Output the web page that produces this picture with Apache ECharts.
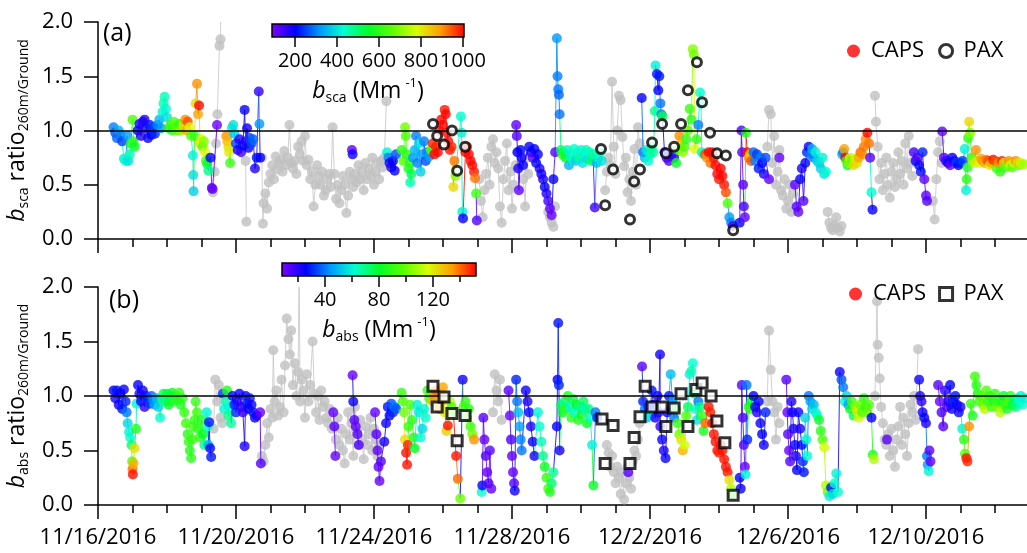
<!DOCTYPE html>
<html>
<head>
<meta charset="UTF-8">
<title>bsca / babs ratio 260m/Ground</title>
<script src="https://cdn.jsdelivr.net/npm/echarts@6/dist/echarts.min.js"></script>
</head>
<body style="margin:0;background:#fff">
<div id="main" style="width:1027px;height:553px;"></div>
<script>
// time = days after 11/16/2016 00:00, ratio, coefficient (Mm-1)
var scaColored = [
  [0.45,1.03,300],[0.5,0.98,260],[0.55,0.93,280],[0.6,1.0,350],[0.65,0.96,300],[0.7,0.9,250],[0.75,0.74,420],[0.8,0.72,430],[0.85,0.95,320],[0.88,0.72,400],[0.92,0.78,450],[0.95,0.88,560],[1.0,1.1,640],[1.03,0.9,600],[1.07,0.85,560],
  [1.15,1.0,200],[1.2,1.06,190],[1.25,0.95,180],[1.3,1.08,170],[1.35,1.1,180],[1.4,1.02,190],[1.45,0.93,200],[1.5,1.05,220],[1.55,0.96,200],[1.6,1.03,250],[1.65,0.97,230],
  [1.72,1.05,300],[1.78,1.1,350],[1.83,1.02,320],[1.87,1.17,420],[1.9,1.25,450],[1.93,1.31,450],[1.97,1.2,430],[2.0,1.12,400],
  [2.05,1.02,580],[2.1,1.05,620],[2.15,1.0,600],[2.2,1.08,650],[2.25,1.03,640],[2.3,1.0,660],[2.35,1.06,600],[2.4,1.0,700],
  [2.48,1.05,820],[2.53,1.1,900],[2.57,1.0,880],[2.6,1.08,950],[2.65,1.03,780],[2.7,0.95,650],
  [2.75,0.77,420],[2.76,0.59,400],[2.77,0.44,380],[2.8,0.95,600],
  [2.83,1.25,820],[2.87,1.43,900],[2.9,1.15,880],[2.93,1.23,1000],[2.96,0.88,820],[2.99,0.92,780],
  [3.03,0.85,650],[3.07,0.9,700],[3.1,0.8,780],[3.13,0.72,620],[3.17,0.69,560],[3.2,0.63,480],
  [3.26,0.75,200],[3.3,0.47,130],[3.32,0.46,110],[3.45,1.05,110],
  [3.72,0.95,900],[3.75,0.9,860],[3.78,0.85,820],[3.8,0.8,800],[3.83,0.7,620],
  [3.88,1.02,420],[3.92,1.05,400],[3.95,0.97,380],
  [4.0,0.88,250],[4.05,0.82,200],[4.1,0.92,180],[4.15,0.8,150],[4.2,0.86,200],[4.25,1.19,200],[4.28,0.9,170],[4.32,1.02,190],[4.36,0.84,200],[4.4,0.93,250],[4.45,0.88,260],[4.5,0.92,280],[4.55,0.65,180],[4.6,0.75,220],
  [4.66,1.36,160],[4.68,1.06,320],[4.7,0.75,200],
  [7.36,0.82,120],[7.38,0.78,190],
  [8.38,0.8,420],[8.42,0.75,300],[8.45,0.7,200],[8.5,0.66,180],[8.55,0.72,200],[8.6,0.63,200],[8.64,0.78,260],
  [8.8,0.82,600],[8.85,0.72,650],[8.9,1.03,680],[8.92,0.95,640],[8.95,0.78,600],[9.0,0.65,580],[9.03,0.7,600],[9.05,0.52,460],[9.08,0.6,520],
  [9.13,0.75,320],[9.18,0.82,350],[9.22,0.95,300],[9.26,0.7,300],[9.3,0.88,400],[9.35,0.62,380],[9.4,0.78,320],[9.45,0.9,300],[9.5,0.72,260],[9.55,0.8,300],[9.6,0.76,330],
  [9.65,0.82,650],[9.7,0.88,980],[9.75,0.78,1000],[9.8,0.85,980],[9.85,0.8,1000],[9.9,1.0,990],[9.95,1.1,1000],[10.0,1.05,1000],[10.05,1.19,990],[10.08,1.15,1000],[10.12,0.98,1000],[10.15,0.9,1000],[10.2,0.82,990],[10.25,0.85,980],
  [10.3,0.48,820],[10.33,0.72,920],[10.36,0.58,700],
  [10.52,1.13,430],[10.54,0.98,420],[10.56,0.25,420],[10.58,0.19,200],
  [10.65,0.8,1000],[10.7,0.85,990],[10.75,0.78,1000],[10.8,0.72,1000],[10.85,0.68,1000],[10.9,0.62,990],[10.93,0.56,920],[10.96,0.42,620],[10.98,0.17,130],
  [12.12,1.05,120],[12.14,0.95,130],[12.16,0.8,200],[12.18,0.65,180],[12.2,0.45,120],[12.25,0.82,200],[12.28,0.75,190],[12.32,0.68,200],
  [12.5,0.85,200],[12.55,0.8,190],[12.6,0.75,120],[12.65,0.83,200],[12.7,0.7,210],[12.75,0.78,200],[12.8,0.65,180],[12.85,0.6,190],
  [12.9,0.55,180],[12.95,0.48,200],[13.0,0.42,180],[13.05,0.35,150],[13.1,0.28,120],[13.15,0.22,110],[13.2,0.55,200],[13.25,0.8,130],
  [13.3,1.85,320],[13.32,1.5,300],[13.34,1.38,300],[13.36,1.33,280],[13.38,1.15,290],
  [13.42,0.82,500],[13.46,0.78,600],[13.5,0.8,560],[13.55,0.75,540],[13.6,0.82,450],[13.65,0.68,350],[13.7,0.78,420],[13.75,0.73,450],[13.8,0.83,430],[13.85,0.72,380],[13.9,0.8,440],[13.95,0.75,470],[14.0,0.82,430],[14.05,0.7,400],[14.1,0.78,420],[14.15,0.82,450],[14.2,0.74,400],[14.25,0.8,430],[14.3,0.72,520],[14.35,0.78,470],[14.4,0.29,150],[14.45,0.7,350],[14.5,0.75,420],[14.55,0.8,450],[14.6,0.72,400],
  [15.76,1.3,200],[15.8,0.8,280],[15.85,0.75,350],[15.9,0.82,420],[15.95,0.72,430],[16.0,0.78,450],[16.05,0.85,500],[16.1,0.8,470],[16.14,1.18,480],[16.16,1.6,420],[16.2,1.52,220],[16.24,1.37,200],[16.27,1.5,220],[16.3,1.25,290],[16.33,1.15,300],[16.36,1.13,520],
  [16.42,0.8,200],[16.48,0.75,150],[16.55,0.72,130],[16.62,0.78,200],[16.7,0.75,160],[16.76,0.7,560],[16.8,0.82,600],[16.85,0.95,900],[16.9,0.88,850],[16.95,0.8,700],[17.0,0.85,640],[17.05,0.92,600],[17.1,1.0,650],[17.15,1.2,620],[17.2,1.1,600],[17.24,1.75,700],[17.27,1.7,680],[17.3,0.83,780],[17.35,0.92,600],[17.4,1.05,300],[17.45,1.35,430],[17.48,1.25,420],[17.5,0.8,430],[17.55,0.78,420],
  [17.6,0.78,950],[17.65,0.75,900],[17.7,0.8,1000],[17.75,0.7,920],[17.8,0.8,1000],[17.85,0.75,990],[17.9,0.68,1000],[17.95,0.6,1000],[18.0,0.55,990],[18.05,0.65,1000],[18.1,0.58,1000],[18.15,0.5,990],[18.2,0.43,950],[18.25,0.33,640],[18.3,0.2,320],[18.35,0.15,300],[18.4,0.12,150],
  [18.6,0.15,200],[18.65,1.0,130],[18.67,0.8,130],[18.7,0.5,120],[18.72,0.3,140],[18.75,0.2,120],[18.78,0.98,580],
  [18.82,0.8,1000],[18.86,0.75,900],[18.9,0.78,820],[18.93,0.72,950],
  [19.0,0.8,280],[19.05,0.72,300],[19.1,0.78,250],[19.15,0.65,220],[19.2,0.75,300],[19.25,0.7,200],[19.3,0.6,180],[19.35,0.75,260],
  [19.45,0.55,120],[19.75,0.75,120],
  [20.2,0.5,120],[20.25,0.3,130],[20.3,0.25,120],[20.35,0.55,200],[20.4,0.65,180],[20.45,0.35,130],[20.5,0.7,200],[20.55,0.8,230],
  [20.6,0.85,200],[20.65,0.78,300],[20.7,0.83,350],[20.75,0.75,300],[20.8,0.8,420],[20.85,0.72,380],[20.9,0.7,400],[20.95,0.65,380],[21.0,0.75,420],[21.05,0.6,400],[21.1,0.62,430],
  [21.57,0.78,350],[21.6,0.8,300],[21.63,0.83,880],[21.66,0.75,1000],[21.7,0.72,600],[21.73,0.68,560],[21.76,0.7,700],[21.8,0.75,800],[21.85,0.72,650],[21.9,0.68,820],[21.95,0.74,760],[22.0,0.7,820],[22.05,0.75,880],[22.1,0.8,930],[22.15,0.78,900],[22.2,0.85,920],[22.25,0.92,900],[22.3,0.98,1000],[22.35,0.88,920],
  [22.38,0.75,130],[22.42,0.43,430],[22.45,0.27,200],
  [23.65,0.8,150],[23.7,0.72,200],[23.75,0.75,120],[23.8,0.68,200],[23.85,0.62,210],[23.9,0.8,230],[23.95,0.55,120],[24.0,0.4,120],[24.03,0.35,130],
  [24.47,0.99,120],[24.52,0.75,130],[24.58,0.72,150],[24.64,0.7,200],[24.7,0.68,120],[24.76,0.75,200],[24.82,0.72,180],[24.88,0.7,250],[24.94,0.68,200],[25.0,0.7,220],[25.06,0.72,250],[25.12,0.83,420],
  [25.16,0.45,420],[25.18,0.55,600],[25.2,0.66,580],[25.22,0.93,600],[25.25,1.08,820],[25.28,0.98,700],[25.32,0.75,600],[25.36,0.72,680],[25.4,0.7,760],[25.45,0.82,900],[25.5,0.72,820],
  [25.55,0.7,780],[25.6,0.74,880],[25.65,0.72,900],[25.7,0.7,860],[25.75,0.73,920],[25.8,0.72,950],[25.85,0.68,800],[25.9,0.7,880],[25.95,0.73,1000],[26.0,0.72,950],[26.05,0.65,640],[26.1,0.7,900],[26.15,0.62,600],[26.2,0.72,980],[26.25,0.7,820],[26.3,0.66,620],[26.35,0.7,700],[26.4,0.72,900],[26.45,0.68,760],[26.5,0.66,650],[26.55,0.7,800],[26.6,0.72,900],[26.65,0.7,820],[26.7,0.68,680],[26.75,0.7,800],[26.85,0.69,720]
];
var scaGray = [
  [3.33,0.43],[3.38,0.62],[3.42,0.88],[3.46,1.15],[3.52,1.78],[3.55,1.84],[3.57,2.3],
  [4.28,0.72],[4.3,0.16],
  [4.75,0.75],[4.78,0.14],[4.8,0.33],[4.85,0.42],[4.9,0.28],[4.95,0.52],[5.0,0.6],[5.05,0.68],[5.1,0.55],[5.15,0.76],[5.2,0.64],[5.25,0.7],[5.3,0.73],[5.35,0.62],[5.4,0.81],[5.45,0.68],[5.5,0.75],[5.55,1.05],[5.6,0.7],[5.65,0.65],[5.7,0.72],[5.75,0.6],[5.8,0.85],[5.85,0.78],[5.9,0.9],[5.95,0.72],[6.0,0.95],[6.05,0.68],[6.1,0.73],[6.15,0.55],[6.2,0.62],[6.25,0.3],[6.3,0.5],[6.35,0.68],[6.4,0.58],[6.45,0.5],[6.5,0.62],[6.55,0.4],[6.6,0.45],[6.65,0.55],[6.7,0.6],[6.75,0.48],[6.8,1.03],[6.85,0.6],[6.9,0.37],[6.95,0.5],[7.0,0.33],[7.05,0.45],[7.1,0.58],[7.15,0.5],[7.2,0.24],[7.25,0.4],[7.3,0.62],[7.35,0.55],[7.4,0.48],[7.45,0.6],[7.5,0.52],[7.55,0.68],[7.6,0.55],[7.65,0.62],[7.7,0.45],[7.75,0.7],[7.8,0.55],[7.85,0.65],[7.9,0.58],[7.95,0.75],[8.0,0.5],[8.05,0.62],[8.1,0.7],[8.15,0.55],[8.2,0.72],[8.25,0.66],[8.3,0.75],[8.36,1.27],
  [11.05,0.55],[11.1,0.35],[11.15,0.2],[11.2,0.45],[11.25,0.6],[11.3,0.75],[11.35,0.5],[11.4,0.85],[11.45,0.92],[11.5,0.7],[11.55,0.8],[11.6,0.65],[11.65,0.3],[11.7,0.15],[11.75,0.55],[11.8,0.72],[11.85,0.88],[11.9,0.45],[11.95,0.62],[12.0,0.28],[12.05,0.5],[12.1,0.68],[12.15,0.8],
  [12.33,0.55],[12.38,0.3],[12.42,0.75],[12.47,0.6],
  [13.05,0.25],[13.1,0.2],[13.15,0.15],[13.2,0.11],[13.25,0.3],
  [14.7,0.45],[14.75,0.62],[14.8,0.75],[14.85,0.68],[14.9,1.45],[14.95,0.85],[15.0,0.6],[15.05,1.0],[15.1,1.32],[15.15,1.28],[15.2,0.94],[15.25,0.67],[15.3,0.75],[15.35,0.43],[15.4,0.55],[15.45,0.35],[15.5,0.62],[15.55,0.83],[15.6,0.5],[15.65,1.03],[15.7,0.88],
  [19.4,0.85],[19.45,1.19],[19.5,1.15],[19.55,0.7],[19.6,0.95],[19.65,0.5],[19.7,0.62],[19.75,0.82],[19.8,0.45],[19.85,0.4],[19.9,0.55],[19.95,0.28],[20.0,0.35],[20.05,0.5],[20.1,0.25],[20.15,0.42],
  [21.15,0.25],[21.2,0.15],[21.25,0.1],[21.3,0.08],[21.35,0.12],[21.4,0.2],[21.45,0.1],[21.5,0.07],[21.55,0.12],
  [22.52,1.32],[22.55,1.08],[22.6,0.85],[22.65,0.55],[22.7,0.7],[22.75,0.45],[22.8,0.6],[22.85,0.75],[22.9,0.5],[22.95,0.38],[23.0,0.62],[23.05,0.7],[23.1,0.48],[23.15,0.55],[23.2,0.8],[23.25,0.6],[23.3,0.72],[23.35,0.5],[23.4,0.88],[23.45,0.65],[23.5,0.95],[23.55,0.7],[23.6,0.58],
  [24.2,0.35],[24.25,0.18],[24.3,0.55],[24.35,0.8],[24.4,0.9],[24.45,0.7]
];
var scaPax = [
  [9.71,1.06],[9.83,0.95],[10.03,0.87],[10.26,1.0],[10.41,0.63],[10.64,0.85],
  [14.58,0.83],[14.7,0.31],[14.93,0.64],[15.42,0.18],[15.54,0.53],[15.71,0.64],[16.06,0.89],[16.35,1.06],[16.46,0.79],[16.7,0.85],[16.9,1.06],[17.1,1.37],[17.36,1.63],[17.51,1.26],[17.74,0.98],[17.94,0.79],[18.2,0.77],[18.41,0.08]
];

var absColored = [
  [0.45,1.05,26],[0.5,0.98,24],[0.55,1.05,28],[0.6,0.92,25],[0.65,1.02,26],[0.7,0.88,28],[0.75,1.06,25],[0.8,0.95,30],[0.83,0.85,40],
  [0.86,0.75,55],[0.9,0.67,60],[0.93,0.62,62],[0.97,0.55,72],[0.99,0.4,95],[1.0,0.33,140],[1.01,0.28,150],[1.03,0.38,130],[1.06,0.52,122],[1.1,0.7,85],[1.12,0.93,60],
  [1.16,1.1,25],[1.2,1.02,22],[1.25,0.95,26],[1.3,1.05,24],[1.35,0.9,20],[1.4,1.0,28],[1.45,0.97,30],[1.5,0.93,32],[1.55,1.0,38],[1.6,0.96,42],[1.65,0.92,45],[1.7,0.98,50],[1.75,0.9,55],[1.8,0.8,62],
  [1.85,0.97,70],[1.9,1.02,75],[1.95,0.95,72],[2.0,1.02,78],[2.05,0.92,80],[2.1,1.0,76],[2.15,1.03,82],[2.2,0.95,85],[2.25,1.0,80],[2.3,0.97,88],[2.35,1.03,90],[2.4,0.92,85],[2.45,0.98,88],
  [2.5,0.85,90],[2.55,0.75,92],[2.6,0.65,88],[2.63,0.58,90],[2.66,0.5,86],[2.7,0.43,88],[2.73,0.6,90],[2.76,0.72,92],[2.8,0.78,88],
  [2.83,0.95,90],[2.87,0.85,92],[2.9,0.7,88],[2.95,0.62,90],[3.0,0.78,85],[3.05,0.65,80],[3.08,0.55,70],
  [3.15,0.85,60],[3.18,0.72,62],[3.2,0.55,50],[3.22,0.76,28],[3.25,0.52,25],[3.28,0.44,28],
  [3.62,1.02,32],[3.66,0.88,60],[3.7,0.95,65],[3.74,1.05,85],[3.78,0.82,70],[3.82,0.9,62],[3.86,0.75,68],
  [3.9,1.0,25],[3.95,0.92,28],[4.0,0.85,30],[4.05,0.95,22],[4.1,1.02,25],[4.15,0.9,20],[4.2,0.85,18],[4.25,0.54,22],[4.28,1.0,25],[4.32,0.93,28],[4.36,0.88,26],[4.4,0.98,30],[4.45,0.92,24],[4.5,0.85,28],[4.55,0.8,26],[4.6,0.82,22],
  [4.7,0.85,12],[4.72,0.38,14],
  [6.82,0.85,12],[6.85,0.72,14],[6.88,0.45,12],
  [7.38,1.19,12],[7.4,0.95,25],[7.43,0.78,14],[7.47,0.72,12],[7.52,0.65,14],[7.56,0.55,15],
  [8.03,0.85,12],[8.07,0.65,14],[8.1,0.5,12],[8.13,0.35,13],[8.16,0.22,12],[8.2,0.4,14],
  [8.3,0.58,22],[8.35,0.75,24],[8.4,0.9,28],[8.45,0.82,26],[8.5,0.93,35],[8.55,0.85,30],[8.6,0.9,40],[8.65,0.88,36],
  [8.8,1.03,90],[8.84,0.95,95],[8.87,0.85,100],[8.9,0.6,122],[8.93,0.48,150],[8.96,0.37,150],[8.98,0.55,148],[9.0,0.72,90],[9.05,0.92,95],[9.1,0.78,88],[9.15,0.62,85],[9.18,0.52,80],
  [9.25,0.92,60],[9.3,0.85,58],[9.35,0.62,62],[9.4,0.7,55],[9.45,0.88,60],[9.5,0.8,62],
  [9.55,1.05,90],[9.6,0.98,95],[9.65,1.02,100],[9.7,0.95,130],[9.75,1.0,135],[9.8,1.05,140],[9.85,0.92,125],[9.9,0.88,135],[9.95,0.95,128],[10.0,1.08,132],[10.05,0.85,120],[10.1,0.68,125],[10.14,0.73,150],
  [10.2,0.95,110],[10.25,0.9,95],[10.3,0.85,100],[10.38,0.45,150],[10.43,0.24,140],[10.5,0.06,100],
  [10.57,1.15,24],[10.6,0.9,95],[10.65,0.95,90],[10.7,0.8,100],[10.75,0.88,88],[10.8,0.72,92],[10.85,0.65,100],[10.9,0.6,135],
  [11.12,0.12,62],[11.14,0.18,25],[11.17,0.8,14],[11.2,0.6,12],[11.24,0.45,14],[11.28,0.3,12],[11.32,0.2,15],[11.36,0.5,13],[11.4,0.15,12],
  [11.9,1.05,14],[11.94,0.82,12],[11.97,0.6,15],[12.0,0.45,13],[12.03,0.3,12],[12.06,0.2,14],[12.08,0.13,24],
  [12.12,1.15,30],[12.15,0.95,40],[12.18,0.85,50],[12.22,0.72,45],[12.25,0.6,42],[12.28,0.5,40],
  [12.4,1.05,24],[12.45,0.95,22],[12.5,0.85,26],[12.55,0.72,22],[12.6,0.58,25],[12.65,0.45,24],
  [12.75,0.85,60],[12.8,0.72,62],[12.85,0.58,65],[12.9,0.45,70],[12.95,0.35,82],[13.0,0.25,90],[13.05,0.15,95],[13.1,0.12,85],[13.15,0.2,72],[13.2,0.3,68],
  [13.3,0.72,25],[13.32,1.15,26],[13.34,1.67,28],[13.36,1.1,30],[13.38,0.5,24],
  [13.42,0.92,75],[13.47,0.85,80],[13.52,0.95,70],[13.57,0.88,90],[13.62,1.0,85],[13.67,0.9,60],[13.72,0.8,88],[13.77,0.97,78],[13.82,0.85,62],[13.87,0.92,80],[13.92,0.78,85],[13.97,0.9,70],[14.02,0.83,82],[14.07,0.95,75],[14.12,0.88,60],[14.17,0.75,80],[14.22,0.88,72],[14.27,0.8,62],[14.32,0.55,60],[14.36,0.18,82],[14.42,0.85,40],[14.47,0.8,30],
  [15.37,0.3,14],
  [15.77,1.27,14],[15.8,0.95,30],[15.85,0.88,40],[15.9,0.8,50],[15.95,0.9,30],[16.0,0.82,60],[16.05,1.05,28],[16.1,0.92,26],[16.15,0.8,24],[16.22,1.0,25],[16.25,0.85,22],[16.29,1.38,24],[16.3,0.72,20],[16.35,0.6,24],[16.4,0.5,22],[16.45,0.43,25],[16.5,0.85,24],[16.55,1.0,28],[16.6,1.2,50],[16.65,0.95,45],[16.7,0.8,40],
  [16.75,0.88,85],[16.8,0.75,90],[16.85,0.65,100],[16.9,0.6,120],[16.95,0.5,130],[17.0,0.55,115],[17.05,0.82,95],[17.1,0.9,75],[17.15,1.2,60],[17.2,1.23,65],[17.24,1.3,62],[17.28,1.02,72],[17.32,0.88,62],[17.36,0.78,58],[17.4,0.95,40],[17.45,0.9,70],[17.5,0.82,90],[17.55,0.68,85],[17.6,0.75,140],
  [17.7,0.9,150],[17.75,0.85,148],[17.8,0.75,150],[17.85,0.65,150],[17.9,0.58,150],[17.95,0.5,150],[18.0,0.48,148],[18.05,0.55,150],[18.1,0.5,150],[18.15,0.42,150],[18.2,0.35,150],[18.25,0.3,150],[18.3,0.23,122],[18.35,0.15,110],[18.38,0.1,90],
  [18.6,0.25,26],[18.63,0.15,25],[18.66,1.1,14],[18.69,0.8,15],[18.72,0.55,14],[18.75,0.35,12],[18.77,0.28,60],[18.8,1.1,40],[18.82,0.6,30],
  [18.86,0.9,85],[18.9,0.88,90],[18.94,0.95,80],
  [19.0,1.0,26],[19.05,0.9,24],[19.1,0.85,22],[19.15,0.95,25],[19.2,0.75,24],[19.25,0.65,26],[19.3,0.55,24],[19.35,0.85,30],
  [19.95,1.15,14],[19.98,0.85,12],[20.0,0.65,14],[20.03,0.5,12],[20.06,0.4,14],
  [20.1,0.95,22],[20.13,0.85,24],[20.16,0.7,22],[20.2,0.55,24],[20.23,0.45,22],[20.26,0.32,26],[20.3,0.85,24],[20.35,0.7,22],[20.4,0.55,26],[20.43,0.4,30],[20.46,0.3,28],
  [20.5,0.8,55],[20.53,0.6,60],[20.56,0.45,62],
  [20.6,1.0,40],[20.65,0.95,45],[20.7,0.88,55],[20.75,0.92,50],[20.8,0.85,60],[20.85,0.82,62],
  [20.9,0.78,82],[20.95,0.68,88],[21.0,0.6,95],[21.05,0.53,115],
  [21.1,0.18,110],[21.15,0.12,100],[21.2,0.08,60],[21.25,0.16,28],[21.3,0.1,55],[21.35,0.2,62],[21.4,0.29,60],[21.45,0.12,62],
  [21.5,1.22,24],[21.55,1.15,35],[21.6,1.08,40],[21.65,0.95,60],[21.7,1.0,55],[21.75,0.92,45],
  [21.8,0.88,80],[21.85,0.95,92],[21.9,0.82,75],[21.95,0.9,105],[22.0,0.86,120],[22.05,0.8,115],[22.1,0.92,100],[22.15,0.85,95],[22.2,0.98,90],[22.25,0.9,88],[22.3,0.85,100],[22.35,0.92,95],
  [22.42,0.8,26],[22.46,0.46,85],[22.49,0.42,110],
  [22.87,0.6,14],
  [23.8,1.15,24],[23.83,1.0,22],[23.87,0.95,20],[23.9,0.85,24],[23.95,0.8,26],[24.0,0.75,22],[24.03,0.45,40],[24.05,0.37,45],[24.08,0.31,60],[24.1,0.5,14],[24.13,0.4,12],
  [24.35,1.1,14],[24.4,0.95,12],[24.45,0.85,15],[24.5,0.72,14],[24.55,1.05,20],[24.6,0.9,14],[24.65,0.95,22],[24.7,1.1,26],[24.75,0.88,24],[24.8,0.95,30],[24.85,1.0,28],[24.9,0.92,26],[24.95,0.85,24],[25.0,0.9,22],
  [25.05,0.7,60],[25.1,0.6,88],[25.13,0.47,95],[25.17,0.43,150],[25.2,0.4,148],[25.25,0.72,135],[25.3,0.93,90],[25.35,0.82,85],
  [25.42,1.18,92],[25.46,1.1,88],[25.5,1.02,85],[25.55,0.95,90],
  [25.6,1.0,95],[25.65,0.92,100],[25.7,0.88,110],[25.75,1.05,95],[25.8,0.95,90],[25.85,1.0,88],[25.9,0.9,92],[25.95,0.95,85],[26.0,1.02,90],[26.05,0.9,100],[26.1,0.95,88],[26.15,0.85,110],[26.2,0.95,85],[26.25,1.0,80],[26.3,0.92,90],[26.35,0.88,85],[26.4,0.95,95],[26.45,1.0,88],[26.5,0.92,80],[26.55,0.95,75],[26.6,0.9,72],[26.65,0.98,65],[26.7,0.95,62],[26.75,1.0,60],[26.8,0.92,62],[26.85,0.98,60]
];
var absGray = [
  [3.35,0.7],[3.4,1.15],[3.45,0.95],[3.5,1.1],[3.55,0.8],[3.6,0.75],
  [4.75,0.45],[4.8,0.4],[4.85,0.55],[4.9,0.75],[4.95,0.62],[5.0,0.88],[5.05,0.8],[5.08,1.42],[5.12,0.95],[5.17,1.05],[5.22,0.82],[5.27,0.9],[5.32,1.15],[5.38,0.85],[5.42,1.28],[5.47,1.71],[5.52,1.52],[5.56,1.38],[5.6,1.6],[5.65,1.1],[5.7,1.3],[5.75,1.0],[5.8,1.22],[5.83,2.2],[5.86,0.95],[5.9,1.15],[5.95,1.05],[6.0,0.8],[6.05,1.2],[6.1,0.95],[6.15,1.1],[6.22,1.5],[6.27,1.02],[6.32,0.85],[6.37,1.0],[6.42,0.78],[6.47,1.05],[6.52,0.9],[6.57,0.95],[6.62,0.8],[6.67,0.75],[6.72,0.88],[6.78,0.7],
  [6.9,0.6],[6.95,0.8],[7.0,0.55],[7.05,0.7],[7.1,0.5],[7.15,0.38],[7.2,0.65],[7.25,0.85],[7.3,0.6],[7.35,0.75],[7.4,0.45],[7.45,0.9],[7.5,0.68],[7.55,0.55],[7.6,0.78],[7.65,0.6],[7.7,0.42],[7.75,0.72],[7.8,0.55],[7.85,0.65],[7.9,0.8],[7.95,0.5],[8.0,0.7],[8.05,0.6],[8.1,0.45],[8.15,0.55],
  [11.45,0.85],[11.5,1.2],[11.55,1.05],[11.6,0.95],[11.65,1.15],[11.7,0.78],
  [14.75,0.55],[14.8,0.48],[14.85,0.35],[14.9,0.45],[14.95,0.3],[15.0,0.2],[15.05,0.35],[15.1,0.25],[15.15,0.1],[15.2,0.3],[15.25,0.05],[15.3,0.2],[15.35,0.35],[15.4,0.25],[15.45,0.15],[15.5,0.4],[15.55,0.5],[15.6,0.45],[15.65,0.6],[15.7,0.75],
  [19.4,0.95],[19.45,1.6],[19.5,1.24],[19.55,0.95],[19.6,0.85],[19.65,0.6],[19.7,0.9],[19.75,0.75],
  [22.52,1.0],[22.58,1.87],[22.6,1.47],[22.63,1.35],[22.66,1.16],[22.7,0.9],[22.75,0.75],[22.8,0.6],[22.85,0.55],[22.9,0.65],[22.95,0.45],[23.0,0.7],[23.05,0.5],[23.1,0.35],[23.15,0.6],[23.2,0.72],[23.25,0.9],[23.3,0.55],[23.35,0.8],[23.4,0.65],[23.45,0.45],[23.5,0.75],[23.55,0.92],[23.6,0.85],[23.65,1.0],[23.7,0.78],[23.77,1.43]
];
var absPax = [
  [9.71,1.09],[9.83,0.9],[10.03,0.99],[10.26,0.84],[10.41,0.59],[10.64,0.82],
  [14.61,0.79],[14.7,0.38],[14.93,0.73],[15.42,0.38],[15.54,0.62],[15.71,0.81],[15.86,1.09],[16.06,0.9],[16.35,0.9],[16.46,0.72],[16.7,0.89],[16.9,1.02],[17.1,0.72],[17.33,1.06],[17.51,1.12],[17.77,1.0],[17.94,0.77],[18.17,0.57],[18.41,0.09]
];

var scaRange = [90, 1005];
var absRange = [8, 152];
var scaTicks = [200, 400, 600, 800, 1000];
var absTicks = [40, 80, 120];
var absMinorTicks = [20, 60, 100, 140];
var rainbow = ['#8000ff', '#0000ff', '#0099ff', '#00ffd0', '#00ff28', '#5cff00', '#d9ff00', '#ff9d00', '#ff0000'];

var FONT = 'Open Sans';
var GAP = 0.2;

// pairs of consecutive points -> [t, r, coef, tPrev, rPrev]
function segments(pts) {
  var out = [];
  for (var i = 1; i < pts.length; i++) {
    if (pts[i][0] - pts[i - 1][0] > GAP) continue;
    out.push([pts[i][0], pts[i][1], pts[i][2] || 0, pts[i - 1][0], pts[i - 1][1]]);
  }
  return out;
}
function segItem(params, api) {
  var a = api.coord([api.value(3), api.value(4)]);
  var b = api.coord([api.value(0), api.value(1)]);
  return {
    type: 'line',
    shape: {x1: a[0], y1: a[1], x2: b[0], y2: b[1]},
    style: {stroke: api.visual('color'), lineWidth: 1, opacity: 0.85}
  };
}
function dateLabel(v) {
  var d = new Date(Date.UTC(2016, 10, 16) + v * 86400000);
  return (d.getUTCMonth() + 1) + '/' + d.getUTCDate() + '/' + d.getUTCFullYear();
}
function gradient() {
  return {
    type: 'linear', x: 0, y: 0, x2: 1, y2: 0,
    colorStops: rainbow.map(function (c, i) { return {offset: i / (rainbow.length - 1), color: c}; })
  };
}
var richSub = {
  i: {fontFamily: FONT, fontSize: 23, fontStyle: 'italic', color: '#000', lineHeight: 28, verticalAlign: 'middle'},
  m: {fontFamily: FONT, fontSize: 23, color: '#000', lineHeight: 28, verticalAlign: 'middle'},
  s: {fontFamily: FONT, fontSize: 14, color: '#000', lineHeight: 14, verticalAlign: 'bottom'},
  p: {fontFamily: FONT, fontSize: 13, color: '#000', lineHeight: 13, verticalAlign: 'top', padding: [0, 0, 0, 4]}
};

function mainX(idx, labels) {
  return {
    type: 'value', gridIndex: idx, min: 0, max: 28, interval: 4,
    axisLine: {lineStyle: {color: '#000', width: 1.5}},
    axisTick: {show: true, length: 14, lineStyle: {color: '#000', width: 1.5}},
    minorTick: {show: true, splitNumber: 4, length: 8, lineStyle: {color: '#000', width: 1.5}},
    splitLine: {show: false},
    axisLabel: {show: labels, interval: 0, margin: 22, showMaxLabel: false, fontFamily: FONT, fontSize: 22, color: '#000', formatter: dateLabel}
  };
}
function mainY(idx, name) {
  return {
    type: 'value', gridIndex: idx, min: 0, max: 2, interval: 0.5,
    name: name, nameLocation: 'middle', nameGap: 60, nameRotate: 90,
    nameTextStyle: {rich: richSub},
    axisLine: {show: true, lineStyle: {color: '#000', width: 1.5}},
    axisTick: {show: true, length: 14, lineStyle: {color: '#000', width: 1.5}},
    splitLine: {show: false},
    axisLabel: {margin: 25, fontFamily: FONT, fontSize: 22, color: '#000', formatter: function (v) { return v.toFixed(1); }}
  };
}
function barX(idx, range, ticks, labels, len, name) {
  return {
    type: 'value', gridIndex: idx, min: range[0], max: range[1], position: 'bottom',
    axisLine: {show: false},
    axisTick: {show: true, length: len, customValues: ticks, lineStyle: {color: '#000', width: 1.5}},
    splitLine: {show: false},
    axisLabel: {show: labels, customValues: ticks, showMinLabel: true, showMaxLabel: true, hideOverlap: false,
      margin: 14, fontFamily: FONT, fontSize: 20, color: '#000', formatter: function (v) { return String(v); }},
    name: name || '', nameLocation: 'middle', nameGap: 40,
    nameTextStyle: {rich: richSub}
  };
}

var chart = echarts.init(document.getElementById('main'));
chart.setOption({
  animation: false,
  backgroundColor: '#fff',
  title: [
    {text: '(a)', left: 98, top: 16, textStyle: {fontFamily: FONT, fontSize: 25, fontWeight: 'normal', color: '#000'}},
    {text: '(b)', left: 104, top: 283, textStyle: {fontFamily: FONT, fontSize: 25, fontWeight: 'normal', color: '#000'}}
  ],
  legend: [
    {left: 842, top: 35, selectedMode: false, itemWidth: 13, itemHeight: 13, itemGap: 14,
      textStyle: {fontFamily: FONT, fontSize: 22, color: '#000', padding: [0, 0, 0, 6]},
      data: [
        {name: 'CAPS', icon: 'circle', itemStyle: {color: '#ff0000', borderWidth: 0}},
        {name: 'PAX', icon: 'circle', itemStyle: {color: '#fff', borderColor: '#000', borderWidth: 3}}
      ]},
    {left: 844, top: 278, selectedMode: false, itemWidth: 13, itemHeight: 13, itemGap: 12,
      textStyle: {fontFamily: FONT, fontSize: 22, color: '#000', padding: [0, 0, 0, 6]},
      data: [
        {name: 'CAPS', icon: 'circle', itemStyle: {color: '#ff0000', borderWidth: 0}},
        {name: 'PAX', icon: 'rect', itemStyle: {color: '#fff', borderColor: '#000', borderWidth: 3}}
      ]}
  ],
  grid: [
    {left: 98, top: 22, width: 966, height: 217, outerBoundsMode: 'none', containLabel: false},
    {left: 98, top: 287, width: 966, height: 218, outerBoundsMode: 'none', containLabel: false},
    {left: 272, top: 24, width: 192, height: 13, outerBoundsMode: 'none', show: true, backgroundColor: gradient(), borderColor: '#000', borderWidth: 1.5},
    {left: 282, top: 263, width: 194, height: 13, outerBoundsMode: 'none', show: true, backgroundColor: gradient(), borderColor: '#000', borderWidth: 1.5}
  ],
  xAxis: [
    mainX(0, false),
    mainX(1, true),
    barX(2, scaRange, scaTicks, true, 10, '{i|b}{s|sca}{m| (Mm}{p|-1}{m|)}'),
    barX(3, absRange, absTicks, true, 11, '{i|b}{s|abs}{m| (Mm}{p|-1}{m|)}'),
    barX(3, absRange, absMinorTicks, false, 6)
  ],
  yAxis: [
    mainY(0, '{i|b}{s|sca}{m| ratio}{s|260m/Ground}'),
    mainY(1, '{i|b}{s|abs}{m| ratio}{s|260m/Ground}'),
    {type: 'value', gridIndex: 2, min: 0, max: 1, show: false},
    {type: 'value', gridIndex: 3, min: 0, max: 1, show: false}
  ],
  visualMap: [
    {type: 'continuous', show: false, min: scaRange[0], max: scaRange[1], dimension: 2, seriesIndex: [2, 3], inRange: {color: rainbow}},
    {type: 'continuous', show: false, min: absRange[0], max: absRange[1], dimension: 2, seriesIndex: [7, 8], inRange: {color: rainbow}}
  ],
  series: [
    {type: 'custom', name: 'gray a', xAxisIndex: 0, yAxisIndex: 0, clip: true, z: 1, renderItem: segItem, encode: {x: 0, y: 1},
      itemStyle: {color: '#c8c8c8'}, data: segments(scaGray)},
    {type: 'scatter', name: 'excluded a', xAxisIndex: 0, yAxisIndex: 0, z: 2, symbolSize: 10, itemStyle: {color: '#c0c0c0'}, data: scaGray,
      markLine: {silent: true, symbol: 'none', label: {show: false}, lineStyle: {color: '#000', width: 1.5, type: 'solid'}, data: [{yAxis: 1}]}},
    {type: 'custom', name: 'CAPS lines a', xAxisIndex: 0, yAxisIndex: 0, clip: true, z: 3, renderItem: segItem, encode: {x: 0, y: 1},
      data: segments(scaColored)},
    {type: 'scatter', name: 'CAPS', xAxisIndex: 0, yAxisIndex: 0, z: 4, symbolSize: 10, data: scaColored},
    {type: 'scatter', name: 'PAX', xAxisIndex: 0, yAxisIndex: 0, z: 5, symbol: 'circle', symbolSize: 9,
      itemStyle: {color: '#fff', borderColor: '#000', borderWidth: 3}, data: scaPax},

    {type: 'custom', name: 'gray b', xAxisIndex: 1, yAxisIndex: 1, clip: true, z: 1, renderItem: segItem, encode: {x: 0, y: 1},
      itemStyle: {color: '#c8c8c8'}, data: segments(absGray)},
    {type: 'scatter', name: 'excluded b', xAxisIndex: 1, yAxisIndex: 1, z: 2, symbolSize: 10, itemStyle: {color: '#c0c0c0'}, data: absGray,
      markLine: {silent: true, symbol: 'none', label: {show: false}, lineStyle: {color: '#000', width: 1.5, type: 'solid'}, data: [{yAxis: 1}]}},
    {type: 'custom', name: 'CAPS lines b', xAxisIndex: 1, yAxisIndex: 1, clip: true, z: 3, renderItem: segItem, encode: {x: 0, y: 1},
      data: segments(absColored)},
    {type: 'scatter', name: 'CAPS', xAxisIndex: 1, yAxisIndex: 1, z: 4, symbolSize: 10, data: absColored},
    {type: 'scatter', name: 'PAX', xAxisIndex: 1, yAxisIndex: 1, z: 5, symbol: 'rect', symbolSize: 10,
      itemStyle: {color: '#fff', borderColor: '#000', borderWidth: 3}, data: absPax}
  ]
});
</script>
</body>
</html>
